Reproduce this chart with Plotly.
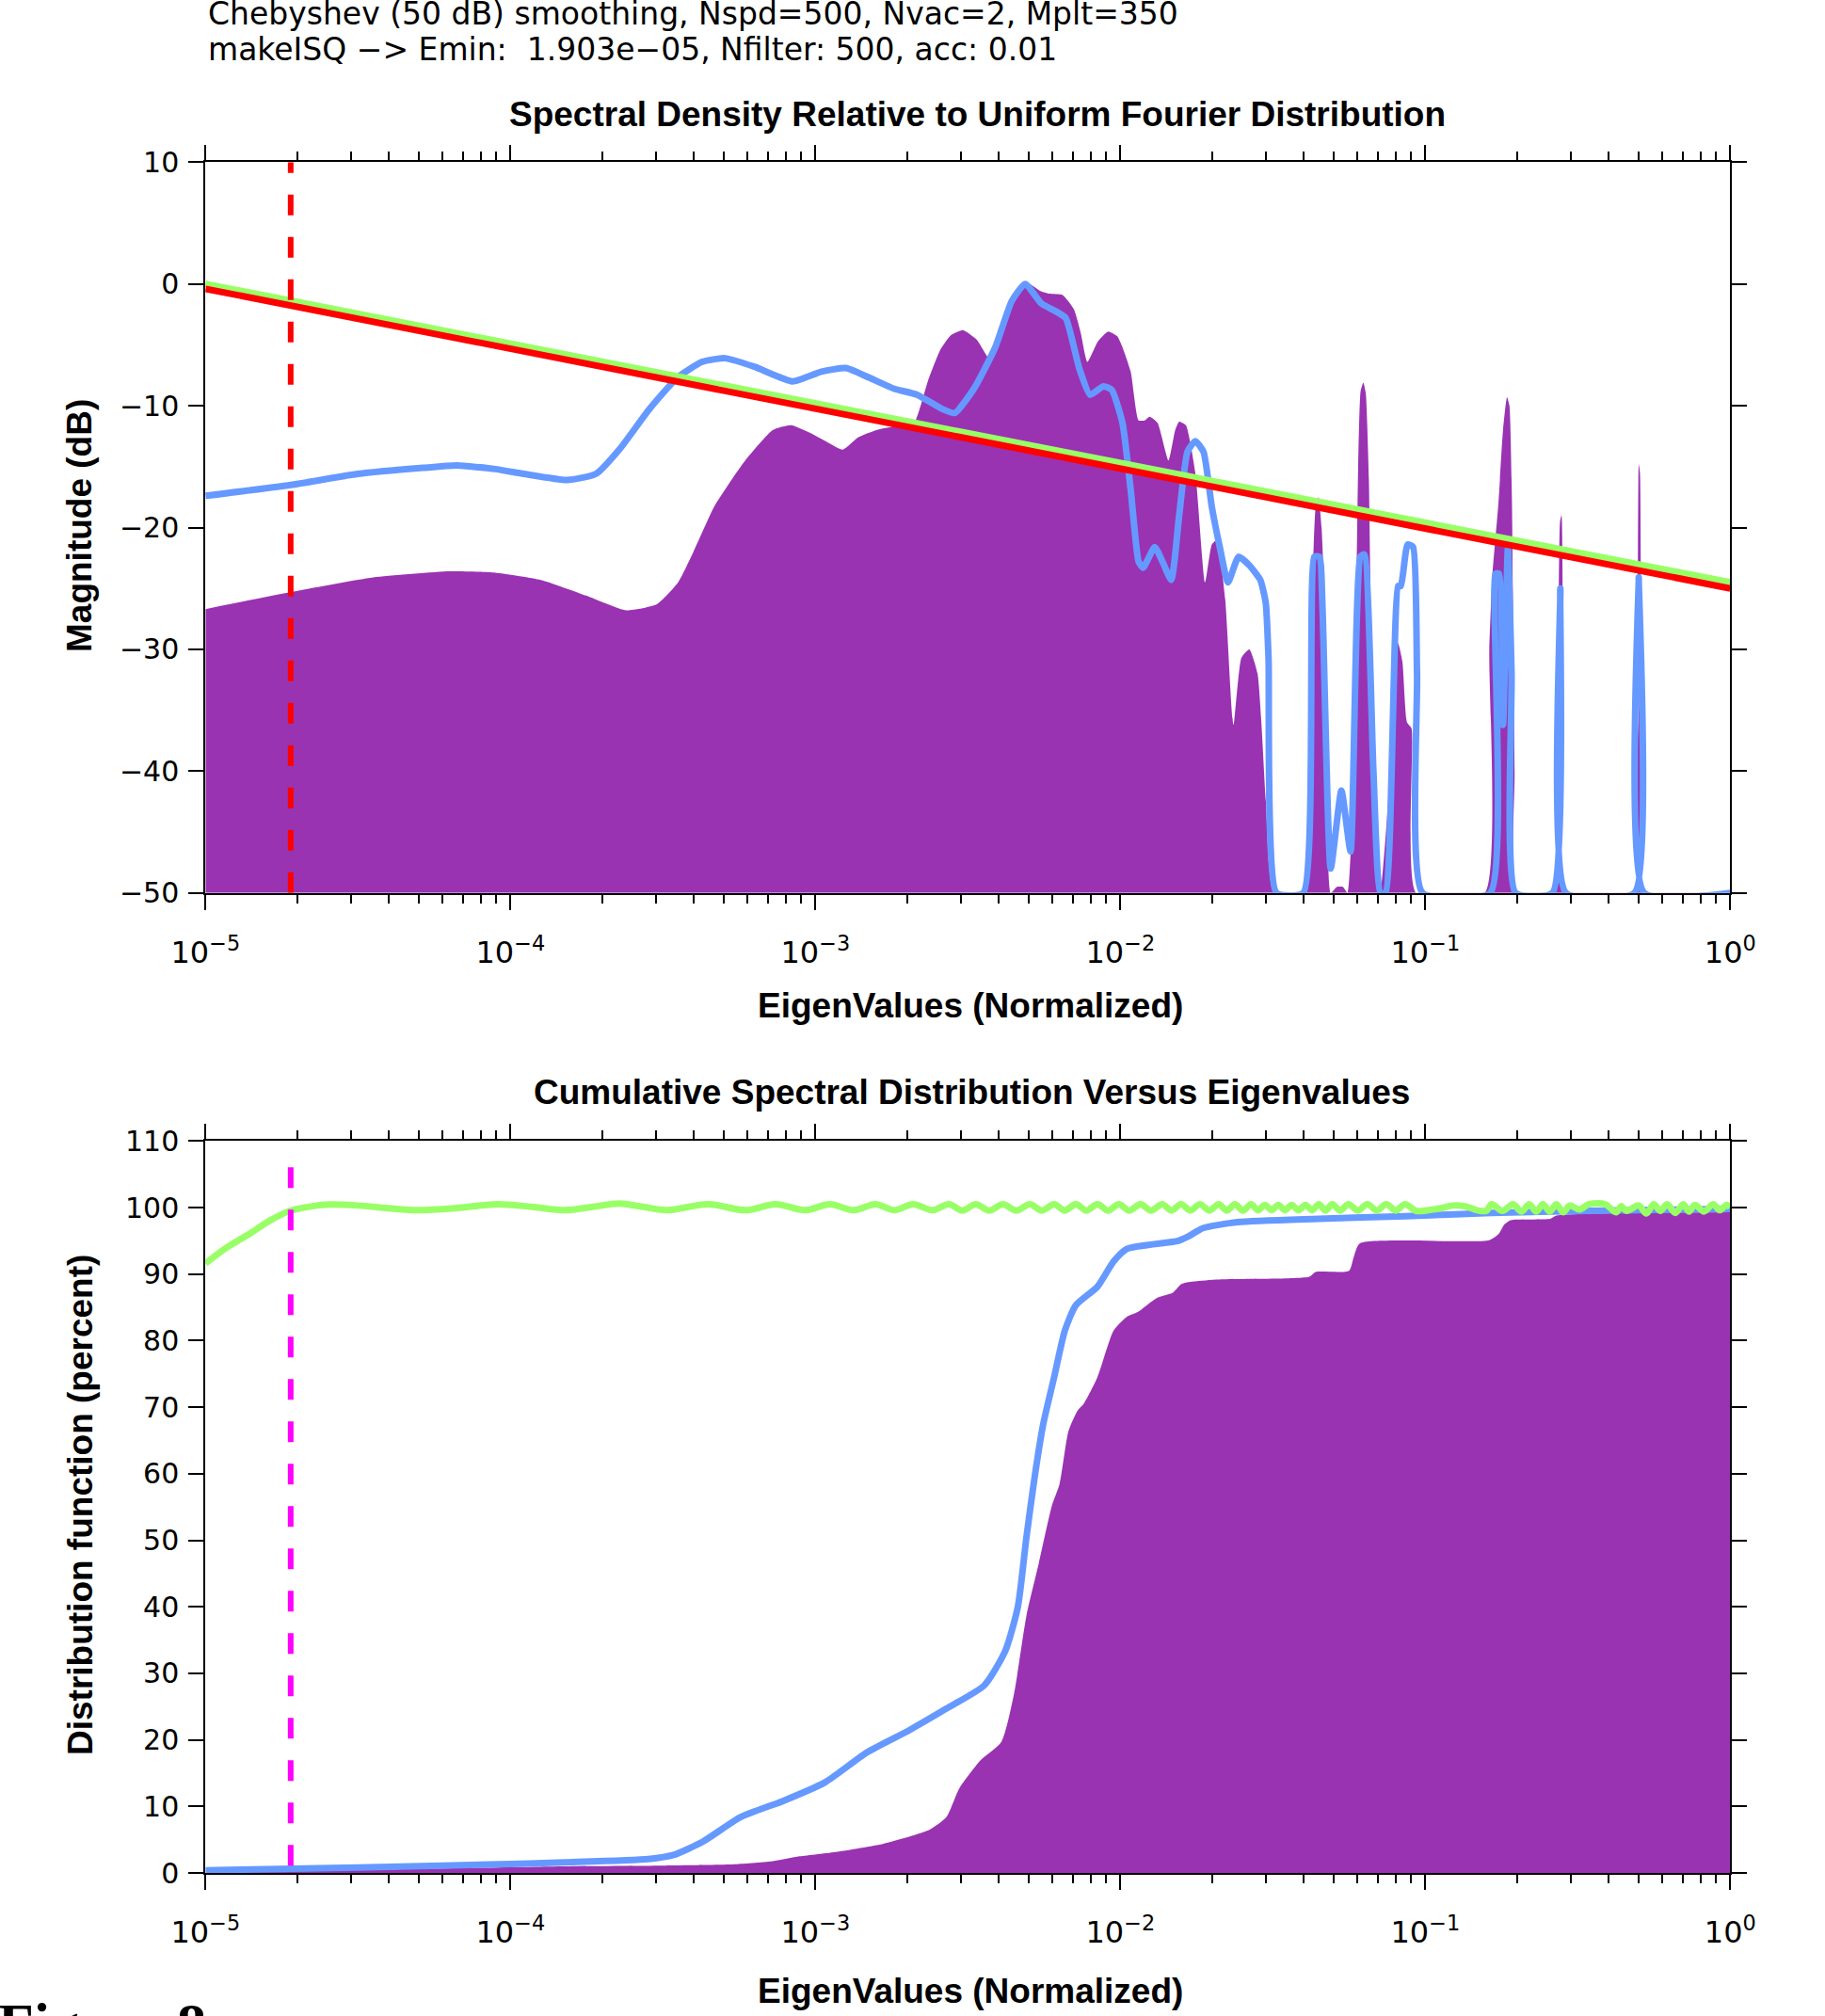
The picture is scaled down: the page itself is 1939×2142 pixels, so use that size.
import plotly.graph_objects as go

W, H = 1939, 2142

# ---------------------------------------------------------------- data
header_lines = [
    "Chebyshev (50 dB) smoothing, Nspd=500, Nvac=2, Mplt=350",
    "makeISQ −> Emin:\u00a0 1.903e−05, Nfilter: 500, acc: 0.01",
]
emin = 1.903e-05

xtick_vals = [1e-5, 1e-4, 1e-3, 1e-2, 1e-1, 1.0]
xtick_text = ["10<sup>−5</sup>", "10<sup>−4</sup>", "10<sup>−3</sup>",
              "10<sup>−2</sup>", "10<sup>−1</sup>", "10<sup>0</sup>"]
minor_vals = [m * d for d in [1e-5, 1e-4, 1e-3, 1e-2, 1e-1] for m in range(2, 10)]
spec_yticks = [-50, -40, -30, -20, -10, 0, 10]
cdf_yticks = [0, 10, 20, 30, 40, 50, 60, 70, 80, 90, 100, 110]

# spectral density (dB), log10 of normalized eigenvalue
spec_fill_logx = [
    -5.000, -4.720, -4.450, -4.200, -4.050, -3.900, -3.750, -3.620, -3.520, -3.450,
    -3.400, -3.330, -3.230, -3.140, -3.080, -3.020, -2.960, -2.910, -2.860, -2.800,
    -2.740, -2.680, -2.630, -2.590, -2.555, -2.516, -2.470, -2.427, -2.390, -2.356,
    -2.330, -2.300, -2.260, -2.232, -2.190, -2.152, -2.130, -2.108, -2.073, -2.040,
    -2.010, -1.993, -1.966, -1.940, -1.920, -1.904, -1.878, -1.842, -1.820, -1.807,
    -1.785, -1.754, -1.722, -1.700, -1.683, -1.656, -1.629, -1.603, -1.577, -1.550,
    -1.523, -1.496, -1.400, -1.385, -1.370, -1.360, -1.350, -1.340, -1.325, -1.310,
    -1.290, -1.270, -1.255, -1.235, -1.220, -1.212, -1.203, -1.195, -1.185, -1.170,
    -1.147, -1.120, -1.100, -1.089, -1.075, -1.060, -1.045, -1.030, -0.805, -0.790,
    -0.780, -0.760, -0.745, -0.732, -0.724, -0.716, -0.707, -0.700, -0.575, -0.565,
    -0.558, -0.553, -0.548, -0.540, -0.310, -0.303, -0.300, -0.296, -0.292, -0.288,
    0.000,
]
spec_fill_db = [
    -26.7, -25.3, -24.1, -23.6, -23.7, -24.3, -25.6, -26.8, -26.3, -24.5,
    -22.0, -18.2, -14.5, -12.0, -11.6, -12.2, -13.0, -13.6, -12.6, -12.0,
    -11.7, -11.6, -7.9, -5.4, -4.2, -3.8, -4.6, -6.2, -3.8, -1.4,
    -0.4, 0.0, -0.6, -0.8, -0.9, -2.1, -4.0, -6.4, -4.7, -3.9,
    -4.3, -5.2, -7.2, -11.2, -11.2, -10.9, -11.4, -14.5, -12.0, -11.3,
    -11.6, -15.5, -24.5, -21.4, -21.0, -25.9, -36.2, -30.7, -30.0, -32.0,
    -42.4, -50.0, -50.0, -46.0, -25.0, -18.5, -17.5, -20.0, -30.0, -50.0,
    -49.5, -49.5, -50.0, -40.0, -15.0, -8.8, -8.1, -9.0, -16.0, -40.0,
    -50.0, -42.0, -31.0, -29.5, -31.0, -36.0, -36.5, -50.0, -50.0, -30.0,
    -24.0, -18.0, -12.0, -9.3, -10.0, -17.5, -40.0, -50.0, -50.0, -35.0,
    -19.5, -19.0, -30.0, -50.0, -50.0, -25.0, -14.8, -15.5, -30.0, -50.0,
    -50.0,
]

spec_blue_logx = [
    -5.000, -4.720, -4.500, -4.285, -4.176, -4.050, -3.956, -3.814, -3.720, -3.640,
    -3.545, -3.453, -3.372, -3.296, -3.200, -3.074, -2.980, -2.900, -2.823, -2.742,
    -2.666, -2.589, -2.543, -2.480, -2.410, -2.356, -2.312, -2.259, -2.215, -2.179,
    -2.135, -2.099, -2.055, -2.028, -1.993, -1.966, -1.940, -1.925, -1.887, -1.860,
    -1.833, -1.807, -1.780, -1.754, -1.727, -1.700, -1.673, -1.647, -1.612, -1.577,
    -1.541, -1.523, -1.514, -1.488, -1.400, -1.364, -1.347, -1.337, -1.310, -1.275,
    -1.245, -1.213, -1.200, -1.170, -1.147, -1.130, -1.089, -1.080, -1.058, -1.040,
    -1.027, -1.009, -0.787, -0.770, -0.758, -0.745, -0.729, -0.717, -0.704, -0.583,
    -0.557, -0.539, -0.314, -0.300, -0.282, 0.000,
]
spec_blue_db = [
    -17.4, -16.5, -15.6, -15.1, -14.9, -15.2, -15.6, -16.1, -15.6, -13.5,
    -10.3, -7.7, -6.4, -6.1, -6.8, -8.0, -7.2, -6.9, -7.7, -8.6,
    -9.1, -10.2, -10.6, -8.6, -5.2, -1.4, 0.0, -1.6, -2.2, -2.8,
    -6.9, -9.1, -8.4, -8.7, -11.4, -16.9, -22.8, -23.3, -21.6, -22.9,
    -24.3, -19.0, -13.8, -12.9, -13.8, -18.3, -21.7, -24.5, -22.4, -23.1,
    -24.3, -26.2, -30.7, -50.0, -50.0, -22.4, -22.4, -26.6, -48.0, -41.6,
    -46.6, -22.4, -22.2, -40.0, -50.0, -50.0, -24.8, -24.8, -21.4, -21.6,
    -32.0, -50.0, -50.0, -23.8, -23.8, -36.2, -21.7, -32.0, -50.0, -50.0,
    -25.0, -50.0, -50.0, -24.1, -50.0, -50.0,
]

trend_logx = [-5.0, 0.0]
trend_red_db = [-0.4, -25.0]
trend_green_db = [0.0, -24.5]

# cumulative distribution (percent)
cdf_fill_logx = [
    -5.000, -4.700, -4.300, -3.823, -3.500, -3.265, -3.135, -3.052, -2.928, -2.776,
    -2.625, -2.570, -2.528, -2.459, -2.390, -2.349, -2.308, -2.267, -2.225, -2.199,
    -2.170, -2.140, -2.120, -2.075, -2.022, -1.978, -1.943, -1.881, -1.828, -1.800,
    -1.775, -1.668, -1.380, -1.360, -1.250, -1.235, -1.215, -0.790, -0.760, -0.740,
    -0.720, -0.590, -0.570, 0.000,
]
cdf_fill_pct = [
    0.0, 0.3, 0.6, 1.0, 1.1, 1.3, 1.8, 2.5, 3.2, 4.4,
    6.5, 8.4, 12.7, 16.9, 19.7, 26.8, 38.6, 46.6, 55.1, 58.5,
    66.4, 69.5, 70.5, 74.5, 81.5, 83.6, 84.3, 86.4, 87.2, 88.5,
    88.8, 89.2, 89.6, 90.3, 90.5, 92.5, 94.6, 95.1, 96.0, 97.5,
    98.1, 98.3, 98.8, 99.3,
]

cdf_blue_logx = [
    -5.000, -4.500, -4.000, -3.823, -3.548, -3.465, -3.369, -3.245, -3.107, -2.969,
    -2.831, -2.694, -2.570, -2.446, -2.377, -2.336, -2.308, -2.280, -2.253, -2.217,
    -2.182, -2.146, -2.075, -2.022, -1.978, -1.810, -1.775, -1.730, -1.615, -1.350,
    -1.066, -0.783, -0.463, 0.000,
]
cdf_blue_pct = [
    0.4, 0.8, 1.35, 1.6, 2.1, 2.7, 4.7, 8.4, 10.8, 13.6,
    18.1, 21.4, 24.7, 28.2, 33.4, 40.0, 50.4, 59.8, 67.4, 74.5,
    81.5, 85.3, 88.1, 91.9, 93.8, 95.0, 95.7, 96.9, 97.8, 98.3,
    98.7, 99.2, 99.5, 99.8,
]

cdf_green_logx = [
    -5.000, -4.930, -4.857, -4.790, -4.723, -4.650, -4.592, -4.500, -4.400, -4.308,
    -4.180, -4.043, -3.930, -3.821, -3.730, -3.644, -3.565, -3.485, -3.352, -3.228,
    -3.131, -3.033, -2.953, -2.873, -2.803, -2.741, -2.679, -2.617, -2.562, -2.518,
    -2.474, -2.430, -2.385, -2.341, -2.297, -2.257, -2.217, -2.182, -2.146, -2.111,
    -2.075, -2.040, -2.005, -1.970, -1.934, -1.899, -1.863, -1.832, -1.801, -1.770,
    -1.739, -1.708, -1.677, -1.651, -1.624, -1.598, -1.571, -1.549, -1.526, -1.504,
    -1.482, -1.460, -1.438, -1.416, -1.393, -1.371, -1.349, -1.327, -1.305, -1.279,
    -1.252, -1.221, -1.190, -1.159, -1.128, -1.097, -1.066, -1.030, -0.990, -0.950,
    -0.910, -0.870, -0.830, -0.800, -0.782, -0.747, -0.712, -0.685, -0.659, -0.636,
    -0.614, -0.592, -0.570, -0.548, -0.526, -0.495, -0.463, -0.410, -0.375, -0.357,
    -0.340, -0.300, -0.275, -0.251, -0.229, -0.207, -0.180, -0.154, -0.135, -0.116,
    -0.086, -0.056, -0.034, -0.012, 0.000,
]
cdf_green_pct = [
    91.6, 94.0, 96.0, 98.0, 99.5, 100.2, 100.45, 100.3, 99.9, 99.6,
    99.9, 100.5, 100.1, 99.6, 100.1, 100.6, 100.1, 99.6, 100.5, 99.6,
    100.5, 99.6, 100.5, 99.6, 100.5, 99.6, 100.5, 99.6, 100.5, 99.55,
    100.5, 99.55, 100.5, 99.55, 100.5, 99.55, 100.5, 99.55, 100.5, 99.55,
    100.5, 99.55, 100.5, 99.55, 100.5, 99.55, 100.5, 99.55, 100.5, 99.55,
    100.5, 99.55, 100.5, 99.55, 100.5, 99.55, 100.5, 99.6, 100.4, 99.6,
    100.4, 99.6, 100.4, 99.6, 100.4, 99.6, 100.5, 99.55, 100.5, 99.55,
    100.5, 99.55, 100.5, 99.55, 100.5, 99.55, 100.5, 99.5, 99.6, 99.9,
    100.3, 100.2, 99.6, 99.5, 100.5, 99.5, 100.5, 99.4, 100.5, 99.4,
    100.5, 99.4, 100.5, 99.3, 100.3, 99.7, 100.5, 100.5, 99.3, 100.2,
    99.5, 100.3, 99.1, 100.5, 99.5, 100.5, 99.2, 100.5, 99.4, 100.4,
    99.4, 100.5, 99.6, 100.4, 100.0,
]

# ---------------------------------------------------------------- styles
PURPLE = "#9933b2"
BLUE = "#6699ff"
GREEN = "#99ff66"
RED = "#ff0000"
MAGENTA = "#ff00ff"
SANS = "Liberation Sans, Arial, Helvetica, sans-serif"
TICKFONT = "DejaVu Sans, Liberation Sans, sans-serif"
DASH = "22px,23px"
LW = 7


def ev(logs):
    return [10.0 ** v for v in logs]


fig = go.Figure()

# --- spectral density panel
spec_x = ev(spec_fill_logx)
fig.add_trace(go.Scatter(
    x=spec_x + [spec_x[-1], spec_x[0]],
    y=spec_fill_db + [spec_yticks[0], spec_yticks[0]],
    mode="lines", fill="toself", fillcolor=PURPLE,
    line=dict(width=0, color=PURPLE, shape="spline", smoothing=0.5),
    xaxis="x", yaxis="y", hoverinfo="skip"))
fig.add_trace(go.Scatter(
    x=ev(spec_blue_logx), y=spec_blue_db, mode="lines",
    line=dict(color=BLUE, width=LW, shape="spline", smoothing=0.5),
    xaxis="x", yaxis="y"))
fig.add_trace(go.Scatter(
    x=ev(trend_logx), y=trend_green_db, mode="lines",
    line=dict(color=GREEN, width=LW), xaxis="x", yaxis="y"))
fig.add_trace(go.Scatter(
    x=ev(trend_logx), y=trend_red_db, mode="lines",
    line=dict(color=RED, width=LW), xaxis="x", yaxis="y"))
fig.add_trace(go.Scatter(
    x=[emin, emin], y=[spec_yticks[0], spec_yticks[-1]], mode="lines",
    line=dict(color=RED, width=6, dash=DASH), xaxis="x", yaxis="y"))

# --- cumulative distribution panel
fig.add_trace(go.Scatter(
    x=ev(cdf_fill_logx), y=cdf_fill_pct, mode="lines", fill="tozeroy",
    fillcolor=PURPLE, line=dict(width=0, color=PURPLE, shape="spline", smoothing=0.6),
    xaxis="x2", yaxis="y2", hoverinfo="skip"))
fig.add_trace(go.Scatter(
    x=ev(cdf_blue_logx), y=cdf_blue_pct, mode="lines",
    line=dict(color=BLUE, width=LW, shape="spline", smoothing=0.6),
    xaxis="x2", yaxis="y2"))
fig.add_trace(go.Scatter(
    x=ev(cdf_green_logx), y=cdf_green_pct, mode="lines",
    line=dict(color=GREEN, width=LW, shape="spline", smoothing=0.9),
    xaxis="x2", yaxis="y2"))
fig.add_trace(go.Scatter(
    x=[emin, emin], y=[1.1, 108.9], mode="lines",
    line=dict(color=MAGENTA, width=6, dash=DASH), xaxis="x2", yaxis="y2"))

# ---------------------------------------------------------------- axes
X0, X1 = 218.3 / W, 1838.3 / W
TOP_DOM = [1 - 948.7 / H, 1 - 172.3 / H]
BOT_DOM = [1 - 1990.0 / H, 1 - 1212.3 / H]


def xaxis_style(anchor):
    return dict(
        type="log", range=[-5, 0], domain=[X0, X1], anchor=anchor,
        tickvals=xtick_vals, ticktext=xtick_text, automargin=False,
        ticks="outside", ticklen=16, tickwidth=2, tickcolor="black",
        showline=True, linewidth=2, linecolor="black", mirror="ticks",
        showgrid=False, zeroline=False,
        tickfont=dict(family=TICKFONT, size=32, color="black"),
        ticklabelstandoff=18,
        minor=dict(tickvals=minor_vals, ticks="outside", ticklen=9,
                   tickwidth=1.5, tickcolor="black", showgrid=False),
    )


def yaxis_style(anchor, dom, rng, ticks):
    return dict(
        domain=dom, anchor=anchor, range=rng, tickvals=ticks, automargin=False,
        ticks="outside", ticklen=16, tickwidth=2, tickcolor="black",
        showline=True, linewidth=2, linecolor="black", mirror="ticks",
        showgrid=False, zeroline=False,
        tickfont=dict(family=TICKFONT, size=30, color="black"),
        ticklabelstandoff=4,
    )


fig.update_layout(
    width=W, height=H, margin=dict(l=0, r=0, t=0, b=0, autoexpand=False),
    paper_bgcolor="white", plot_bgcolor="white", showlegend=False,
    xaxis=xaxis_style("y"),
    yaxis=yaxis_style("x", TOP_DOM, [-50, 10], spec_yticks),
    xaxis2=xaxis_style("y2"),
    yaxis2=yaxis_style("x2", BOT_DOM, [0, 110], cdf_yticks),
)


def label(text, x_px, y_px, size, family=SANS, xanchor="center", angle=0):
    return dict(text=text, x=x_px / W, y=1 - y_px / H, xref="paper", yref="paper",
                showarrow=False, xanchor=xanchor, yanchor="middle", textangle=angle,
                font=dict(family=family, size=size, color="black"))


annotations = [
    label(header_lines[0], 219, 15, 33, family=TICKFONT, xanchor="left"),
    label(header_lines[1], 219, 52, 33, family=TICKFONT, xanchor="left"),
    label("<b>Spectral Density Relative to Uniform Fourier Distribution</b>", 1038, 121, 37),
    label("<b>EigenValues (Normalized)</b>", 1031, 1068, 37),
    label("<b>Magnitude (dB)</b>", 85, 559, 37, angle=-90),
    label("<b>Cumulative Spectral Distribution Versus Eigenvalues</b>", 1032, 1160, 37),
    label("<b>EigenValues (Normalized)</b>", 1031, 2115, 37),
    label("<b>Distribution function (percent)</b>", 85, 1599, 37, angle=-90),
    label("<b>Figure 8</b>", -4, 2150, 62, family="Liberation Serif, Times New Roman, serif",
          xanchor="left"),
]
fig.update_layout(annotations=annotations)

fig.write_html("out.html")
